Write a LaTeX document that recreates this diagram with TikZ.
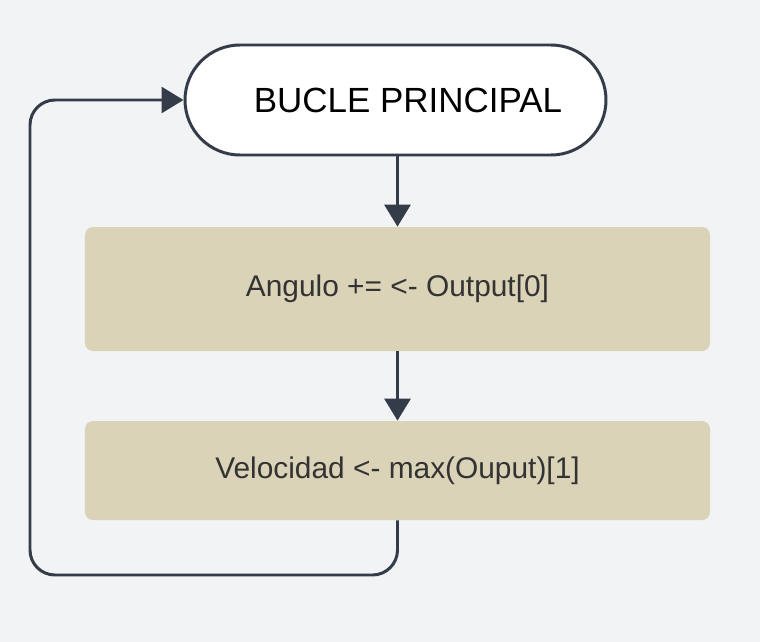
\documentclass[tikz,border=0pt]{standalone}
\usepackage{fontspec}
\setmainfont{Liberation Sans}
\usepackage{xcolor}
\usepackage{tikz}
\usetikzlibrary{arrows.meta}

\definecolor{fondo}{HTML}{F1F3F5}
\definecolor{linea}{HTML}{353C49}
\definecolor{caja}{HTML}{DBD3B7}
\definecolor{texto}{HTML}{333333}

\tikzset{
  inicio/.style={draw=linea, line width=1.7pt, fill=white, rounded corners=1.1cm,
    minimum width=8.42cm, minimum height=2.2cm, font=\fontsize{19.9}{22}\selectfont},
  proceso/.style={fill=caja, rounded corners=0.16cm, minimum width=12.5cm,
    text=texto, font=\fontsize{17}{20}\selectfont},
  flecha/.style={draw=linea, line width=1.7pt, -{Triangle[width=0.52cm,length=0.44cm]}}
}

\begin{document}
\begin{tikzpicture}
        % Fondo
        \fill[fondo] (0,0) rectangle (15.2,-12.84);
        \useasboundingbox (0,0) rectangle (15.2,-12.84);
        
        % Nodos
        \node[inicio] (bucle) at (7.91,-2.0) {\hspace{0.5cm}BUCLE PRINCIPAL};
        \node[proceso, minimum height=2.48cm] (angulo) at (7.95,-5.78) {Angulo += <- Output[0]};
        \node[proceso, minimum height=1.98cm] (velocidad) at (7.95,-9.41) {Velocidad <- max(Ouput)[1]};
        
        % Conexiones
        \draw[flecha] (bucle.south -| angulo.north) -- (angulo.north);
        \draw[flecha] (angulo) -- (velocidad);
        \coordinate (abajo) at (7.95,-11.5);
        \coordinate (izq) at (0.6,-11.5);
        \draw[flecha, rounded corners=0.5cm] (velocidad.south) -- (abajo) -- (izq) -- (izq |- bucle.west) -- (bucle.west);
    \end{tikzpicture}
\end{document}
